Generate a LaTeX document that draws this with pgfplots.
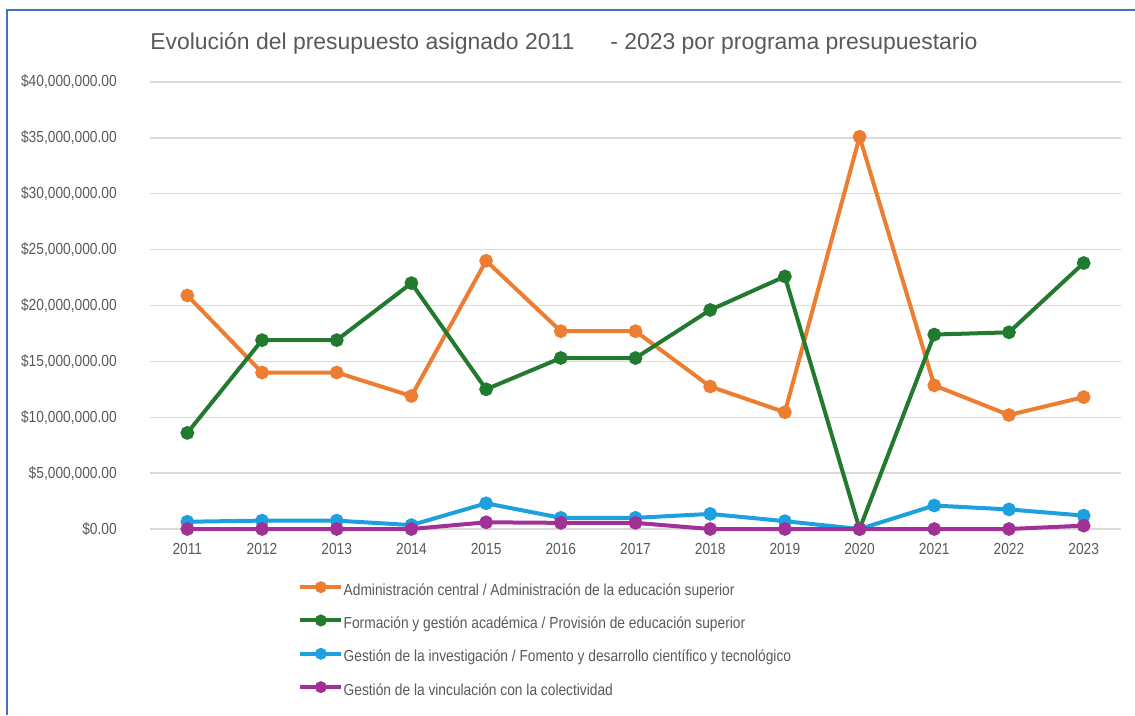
\documentclass[border=0pt]{standalone}
\usepackage{pgfplots}
\pgfplotsset{compat=1.18}
\usepackage{fontspec}
\setmainfont{Liberation Sans}
\newfontfamily\narrowfont{Liberation Sans}[FakeStretch=0.86]
\definecolor{cOrange}{HTML}{ED7D31}
\definecolor{cGreen}{HTML}{217A2E}
\definecolor{cBlue}{HTML}{1DA1DE}
\definecolor{cPurple}{HTML}{A13196}
\definecolor{textgray}{HTML}{595959}
\definecolor{gridgray}{HTML}{D9D9D9}
\definecolor{borderblue}{HTML}{4472C4}
\begin{document}
\begin{tikzpicture}[x=0.75pt,y=0.75pt]
\path[use as bounding box] (0,0) rectangle (1135,715);
\draw[color=borderblue, line width=1.5pt] (7,0) -- (7,705) -- (1135,705);
\node[anchor=base west, inner sep=0pt, text=textgray, font=\fontsize{17.2}{20}\selectfont] at (150,665) {Evolución del presupuesto asignado 2011\hspace{27pt}- 2023 por programa presupuestario};
\begin{axis}[
  at={(112.5pt,139.5pt)}, anchor=south west,
  scale only axis, width=728.25pt, height=335.25pt,
  xmin=-0.5, xmax=12.5, ymin=0, ymax=40000000,
  xtick={0,...,12},
  xticklabels={2011,2012,2013,2014,2015,2016,2017,2018,2019,2020,2021,2022,2023},
  ytick={0,5000000,10000000,15000000,20000000,25000000,30000000,35000000,40000000},
  yticklabels={{\$0.00},{\$5,000,000.00},{\$10,000,000.00},{\$15,000,000.00},{\$20,000,000.00},{\$25,000,000.00},{\$30,000,000.00},{\$35,000,000.00},{\$40,000,000.00}},
  scaled y ticks=false,
  ymajorgrids, grid style={draw=gridgray, line width=1pt},
  axis line style={draw=none},
  major tick length=0pt,
  tick label style={font=\narrowfont\fontsize{12}{14}\selectfont, text=textgray, inner sep=0pt},
  yticklabel style={anchor=east, xshift=-24.75pt},
  xticklabel style={anchor=north, yshift=-10.5pt},
  clip=false,
  legend style={at={(0.1525,0)}, anchor=north west, yshift=-40.5pt, draw=none, fill=none,
    font=\narrowfont\fontsize{12}{14}\selectfont, text=textgray,
    row sep=13.6pt, inner sep=0pt,
    nodes={inner sep=0pt, text height=8.5pt, text depth=2.5pt}},
  legend cell align=left,
  legend image code/.code={
    \draw[#1, mark repeat=2, mark phase=2, mark size=2.9pt] plot coordinates {(0pt,3pt) (15.4pt,3pt) (30.75pt,3pt)};
    \path (31pt,3pt);
  },
  every axis plot/.append style={line width=3pt, mark=*, mark size=3.6pt},
]
\addplot[color=cOrange, mark options={fill=cOrange, draw=cOrange}] coordinates {
(0,20900000) (1,14000000) (2,14000000) (3,11900000) (4,24000000) (5,17700000) (6,17700000)
(7,12750000) (8,10450000) (9,35100000) (10,12850000) (11,10200000) (12,11800000)};
\addlegendentry{Administración central / Administración de la educación superior}
\addplot[color=cGreen, mark options={fill=cGreen, draw=cGreen}] coordinates {
(0,8600000) (1,16900000) (2,16900000) (3,22000000) (4,12500000) (5,15300000) (6,15300000)
(7,19600000) (8,22600000) (9,0) (10,17400000) (11,17600000) (12,23800000)};
\addlegendentry{Formación y gestión académica / Provisión de educación superior}
\addplot[color=cBlue, mark options={fill=cBlue, draw=cBlue}] coordinates {
(0,650000) (1,750000) (2,750000) (3,350000) (4,2300000) (5,1000000) (6,1000000)
(7,1350000) (8,700000) (9,0) (10,2100000) (11,1750000) (12,1200000)};
\addlegendentry{Gestión de la investigación / Fomento y desarrollo científico y tecnológico}
\addplot[color=cPurple, mark options={fill=cPurple, draw=cPurple}] coordinates {
(0,0) (1,0) (2,0) (3,0) (4,600000) (5,550000) (6,550000)
(7,0) (8,0) (9,0) (10,0) (11,0) (12,300000)};
\addlegendentry{Gestión de la vinculación con la colectividad}
\end{axis}
\end{tikzpicture}
\end{document}
